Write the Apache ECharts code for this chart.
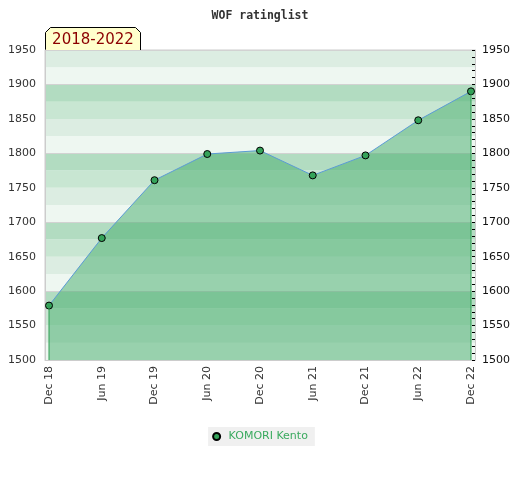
<!DOCTYPE html>
<html>
<head>
<meta charset="utf-8">
<script src="https://cdn.jsdelivr.net/npm/echarts@6/dist/echarts.min.js"></script>
<style>html,body{margin:0;padding:0;background:#fff}#c{width:520px;height:480px}</style>
</head>
<body>
<div id="c"></div>
<script>
const categories = ['Dec 18','Jun 19','Dec 19','Jun 20','Dec 20','Jun 21','Dec 21','Jun 22','Dec 22'];
const ratings = [1579, 1677, 1761, 1799, 1804, 1768, 1797, 1848, 1890];
const seriesName = 'KOMORI Kento';
const periodLabel = '2018-2022';
const yMin = 1500, yMax = 1950;

const chart = echarts.init(document.getElementById('c'), null, {renderer: 'canvas'});
const pts = ratings.map((v, i) => [i, v]);
const last = ratings.length - 1;
const labelFont = {fontFamily: 'DejaVu Sans', fontSize: 11, color: '#333'};
const plain = v => String(v);
const edgeSeries = idx => ({
  type: 'line', silent: true, symbol: 'none', z: 4,
  data: [[idx, ratings[idx]], [idx, yMin]],
  lineStyle: {color: '#2f9e52', width: 1}, tooltip: {show: false}
});

chart.setOption({
  animation: false,
  backgroundColor: '#fff',
  title: {
    text: 'WOF ratinglist', left: 'center', top: 5,
    textStyle: {fontFamily: 'DejaVu Sans Mono', fontWeight: 'bold', fontSize: 11.5, color: '#333'}
  },
  graphic: [{
    type: 'group', left: 45, top: 27,
    children: [
      {type: 'polygon', shape: {points: [[0,23],[0,5],[5,0],[90,0],[95,5],[95,23]]},
       style: {fill: '#ffffcc', stroke: '#000', lineWidth: 1}},
      {type: 'text', x: 47.5, y: 13, style: {text: periodLabel, fill: '#8b0000', font: '15px "DejaVu Sans"', align: 'center', verticalAlign: 'middle'}}
    ]
  }],
  legend: {
    bottom: 34, left: 'center',
    backgroundColor: '#f0f0f0', padding: [4, 7, 4, 4],
    itemWidth: 14, itemHeight: 7, symbolKeepAspect: true,
    textStyle: {fontFamily: 'DejaVu Sans', fontSize: 11, color: '#3aaa5f'},
    data: [{name: seriesName, icon: 'circle'}]
  },
  grid: {left: 45, right: 45, top: 50, bottom: 120, show: true, borderColor: '#ccc', borderWidth: 1, backgroundColor: 'transparent'},
  xAxis: {
    type: 'value', min: -0.076, max: last + 0.076,
    axisLine: {show: true, onZero: false, lineStyle: {color: '#ccc'}},
    axisTick: {show: false},
    splitLine: {show: false},
    axisLabel: {
      ...labelFont, rotate: 90, margin: 6,
      customValues: categories.map((c, i) => i),
      formatter: v => categories[Math.round(v)]
    }
  },
  yAxis: [
    {
      type: 'value', min: yMin, max: yMax, interval: 50, position: 'left',
      axisLine: {show: true, onZero: false, lineStyle: {color: '#ccc'}},
      axisTick: {show: false},
      splitLine: {show: false},
      axisLabel: {...labelFont, margin: 9, formatter: plain}
    },
    {
      type: 'value', min: yMin, max: yMax, interval: 50, position: 'right',
      axisLine: {show: true, onZero: false, lineStyle: {color: '#ccc'}},
      axisTick: {show: true, inside: true, length: 3, lineStyle: {color: '#000'}},
      minorTick: {show: true, splitNumber: 5, length: 3, lineStyle: {color: '#000'}},
      splitLine: {show: false},
      axisLabel: {...labelFont, color: '#111', margin: 7, formatter: plain}
    },
    {
      type: 'value', min: yMin, max: yMax, interval: 25, position: 'left',
      axisLine: {show: false, onZero: false}, axisTick: {show: false}, axisLabel: {show: false},
      splitLine: {show: false},
      splitArea: {show: true, areaStyle: {color: ['#eef7f1', '#dcede2', '#c8e6d2', '#b2dcc1']}}
    },
    {
      type: 'value', min: yMin, max: yMax, interval: 100, position: 'left',
      axisLine: {show: false, onZero: false}, axisTick: {show: false}, axisLabel: {show: false},
      splitLine: {show: true, lineStyle: {color: '#d2d2d2', width: 1}},
      splitArea: {show: false}
    }
  ],
  series: [{
    name: seriesName,
    type: 'line',
    yAxisIndex: 0,
    data: pts,
    symbol: 'circle', symbolSize: 7,
    itemStyle: {color: '#35a35a', borderColor: '#000', borderWidth: 1},
    lineStyle: {color: '#5b9bd5', width: 1},
    areaStyle: {color: 'rgba(72,174,111,0.52)', opacity: 1, origin: 'start'},
    z: 3
  }, edgeSeries(0), edgeSeries(last)]
});
</script>
</body>
</html>
